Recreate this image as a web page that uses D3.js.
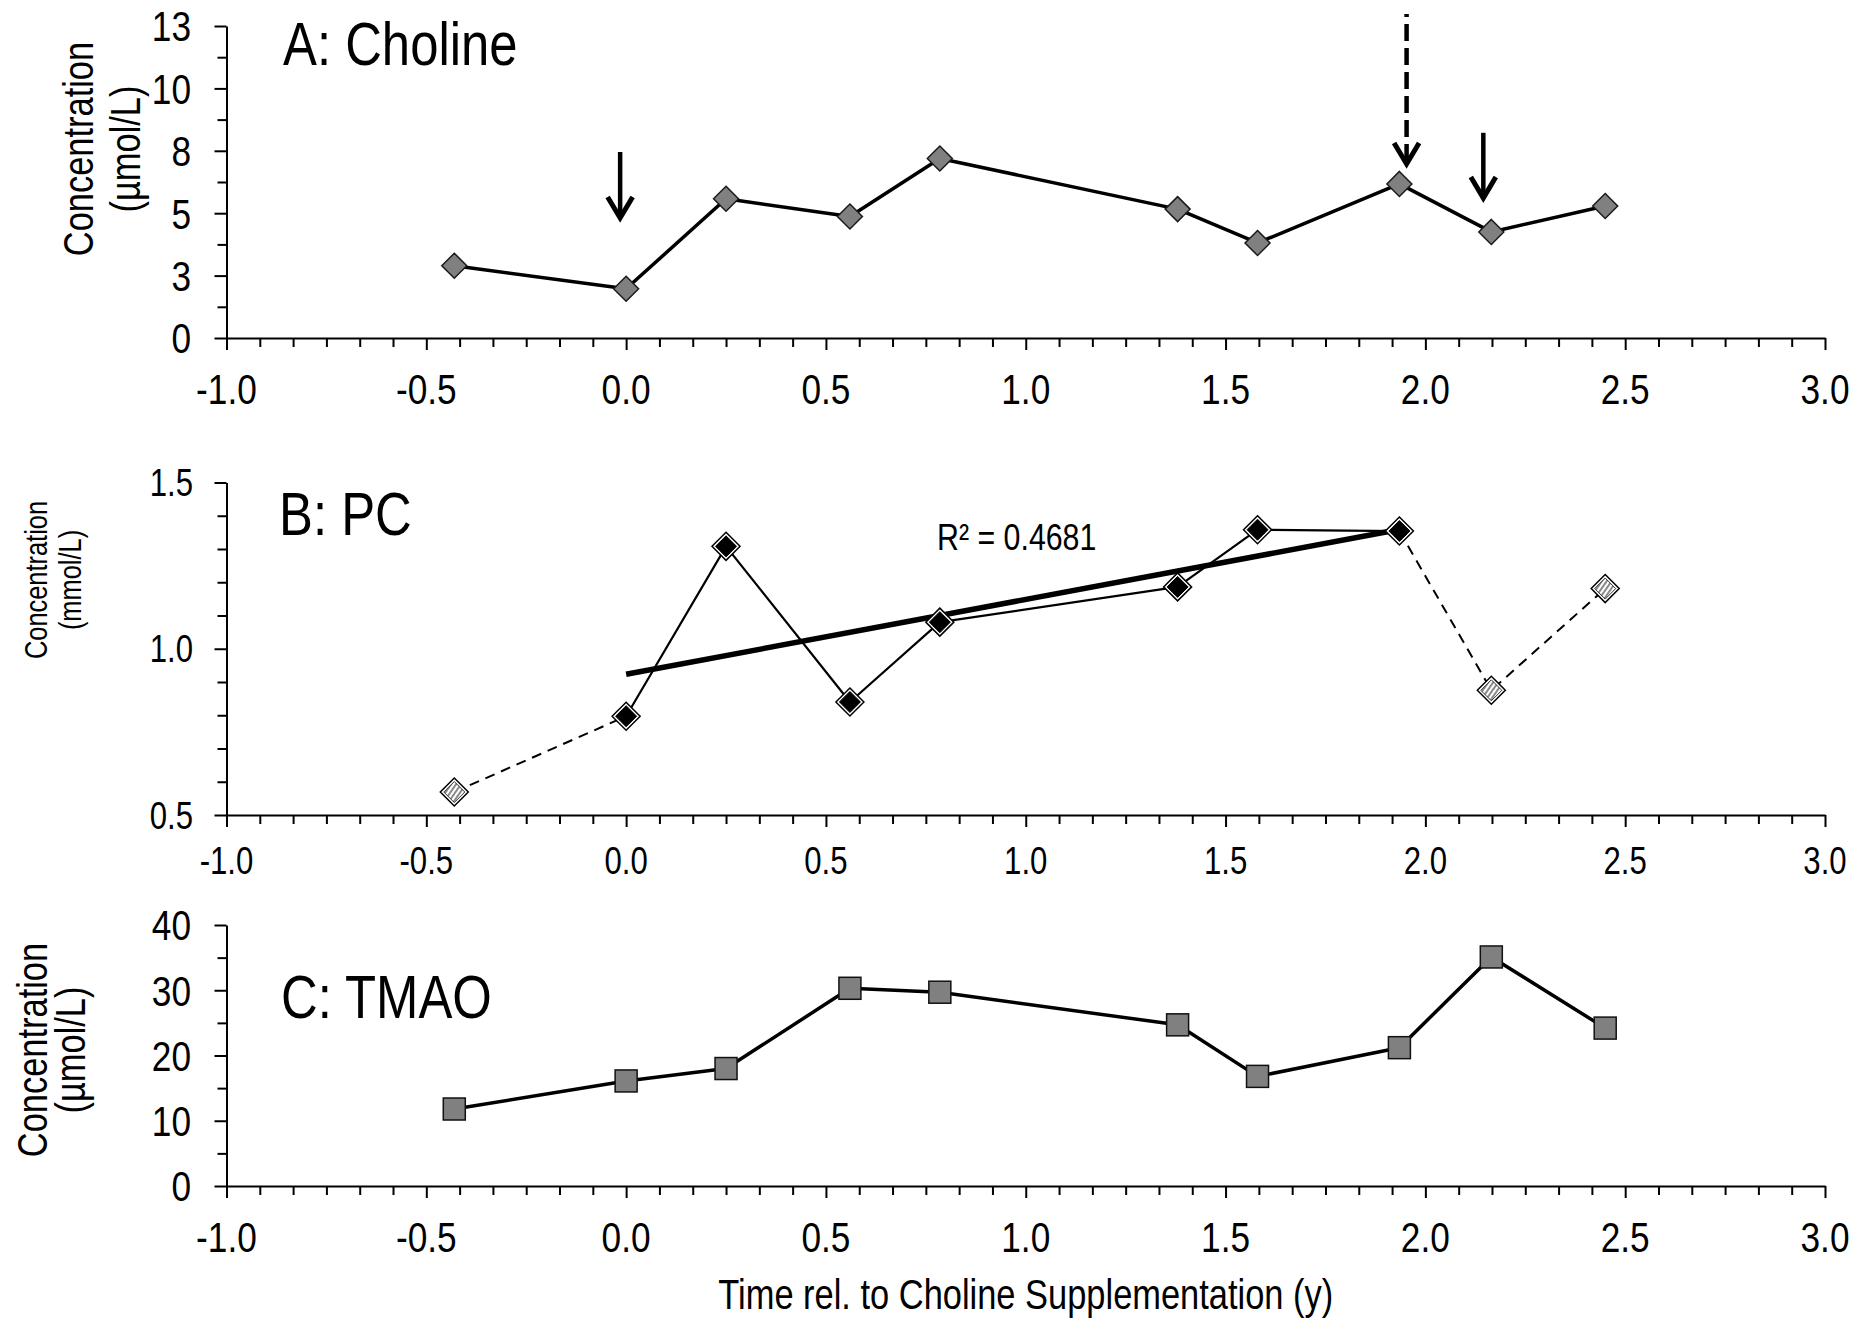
<!DOCTYPE html>
<html><head><meta charset="utf-8">
<script src="https://cdn.jsdelivr.net/npm/d3@7"></script>
<style>body{margin:0;background:#fff} svg{display:block}</style>
</head><body>
<svg id="chart" width="1855" height="1318"></svg>
<script>
// ---------- data ----------
const times = [-0.43, 0.0, 0.25, 0.56, 0.785, 1.38, 1.58, 1.935, 2.165, 2.45];
const cholineValues = [3.01, 2.05, 5.80, 5.06, 7.48, 5.37, 3.96, 6.42, 4.42, 5.50];
const pcValues = [0.569, 0.797, 1.308, 0.840, 1.080, 1.186, 1.358, 1.354, 0.875, 1.181];
const pcInTrend = [false, true, true, true, true, true, true, true, false, false];
const tmaoValues = [11.8, 16.1, 18.0, 30.3, 29.7, 24.7, 16.8, 21.2, 35.1, 24.2];

const xTickValues = [-1.0, -0.5, 0.0, 0.5, 1.0, 1.5, 2.0, 2.5, 3.0];
const xTickLabels = ["-1.0", "-0.5", "0.0", "0.5", "1.0", "1.5", "2.0", "2.5", "3.0"];
const cholineTicks = [0, 2.6, 5.2, 7.8, 10.4, 13];
const cholineTickLabels = ["0", "3", "5", "8", "10", "13"];
const pcTicks = [0.5, 1.0, 1.5];
const pcTickLabels = ["0.5", "1.0", "1.5"];
const tmaoTicks = [0, 10, 20, 30, 40];
const tmaoTickLabels = ["0", "10", "20", "30", "40"];

const arrowX = [-0.015, 1.953, 2.145];
const arrowTop = [7.75, 13.5, 8.55];
const arrowTip = [4.92, 7.17, 5.75];
const arrowDashed = [false, true, false];

const panelTitles = ["A: Choline", "B: PC", "C: TMAO"];
const yTitles = [["Concentration", "(\u00b5mol/L)"], ["Concentration", "(mmol/L)"], ["Concentration", "(\u00b5mol/L)"]];
const xTitle = "Time rel. to Choline Supplementation (y)";
const r2Label = "R\u00b2 = 0.4681";

// ---------- setup ----------
const svg = d3.select("#chart");
const FONT = "'Liberation Sans', Arial, sans-serif";
const NARROW = 0.82;
const X0 = 226.5, X1 = 1825;
const x = d3.scaleLinear().domain([-1, 3]).range([X0, X1]);

const defs = svg.append("defs");
const pat = defs.append("pattern").attr("id", "hatch").attr("patternUnits", "userSpaceOnUse")
  .attr("width", 4).attr("height", 4).attr("patternTransform", "rotate(35)");
pat.append("rect").attr("width", 4).attr("height", 4).attr("fill", "#ffffff");
pat.append("rect").attr("width", 2).attr("height", 4).attr("fill", "#8a8a8a");

function ntext(parent, tx, ty, str, size, anchor, rot) {
  const g = parent.append("g").attr("transform", `translate(${tx},${ty}) rotate(${rot || 0}) scale(${NARROW},1)`);
  return g.append("text").attr("x", 0).attr("y", 0).attr("text-anchor", anchor || "start")
    .attr("font-family", FONT).attr("font-size", size).attr("fill", "#000").text(str);
}

function drawAxes(y, yTicks, yLabels, yMinor, opts) {
  const y0 = y.range()[0];
  const g = svg.append("g");
  const xMinor = d3.range(0, 49).filter(i => i % 6 !== 0).map(i => -1 + i / 12);
  const gxm = g.append("g").attr("transform", `translate(0,${y0})`)
    .call(d3.axisBottom(x).tickValues(xMinor).tickSize(9).tickSizeOuter(0).tickFormat(""));
  gxm.select(".domain").remove();
  g.append("g").attr("transform", `translate(0,${y0})`)
    .call(d3.axisBottom(x).tickValues(xTickValues).tickSize(12).tickSizeOuter(0).tickFormat(""));
  const gym = g.append("g").attr("transform", `translate(${X0},0)`)
    .call(d3.axisLeft(y).tickValues(yMinor).tickSize(9).tickSizeOuter(0).tickFormat(""));
  gym.select(".domain").remove();
  g.append("g").attr("transform", `translate(${X0},0)`)
    .call(d3.axisLeft(y).tickValues(yTicks).tickSize(12).tickSizeOuter(0).tickFormat(""));
  g.selectAll("line").attr("stroke", "#000").attr("stroke-width", 2);
  g.selectAll(".domain").attr("stroke", "#000").attr("stroke-width", 2);
  xTickValues.forEach((v, i) => ntext(g, x(v), y0 + opts.xLabOff, xTickLabels[i], opts.tickSize, "middle"));
  yTicks.forEach((v, i) => ntext(g, opts.yLabRight, y(v) + opts.tickSize * 0.36, yLabels[i], opts.tickSize, "end"));
}

function diamond(r) { return `M0,${-r}L${r},0L0,${r}L${-r},0Z`; }

// ---------- Panel A ----------
const yA = d3.scaleLinear().domain([0, 13]).range([338, 26]);
drawAxes(yA, cholineTicks, cholineTickLabels, d3.range(1, 10, 2).map(i => i * 1.3),
  { xLabOff: 66, tickSize: 43, yLabRight: 191 });
const gA = svg.append("g");
gA.append("path").datum(times.map((t, i) => [t, cholineValues[i]]))
  .attr("d", d3.line().x(d => x(d[0])).y(d => yA(d[1])))
  .attr("fill", "none").attr("stroke", "#000").attr("stroke-width", 3.5).attr("stroke-linejoin", "round");
gA.selectAll(".mk").data(times).join("path")
  .attr("transform", (t, i) => `translate(${x(t)},${yA(cholineValues[i])})`)
  .attr("d", diamond(12.5)).attr("fill", "#808080").attr("stroke", "#1a1a1a").attr("stroke-width", 1.5);
ntext(gA, 283, 65, panelTitles[0], 62, "start");
ntext(gA, 93, 149, yTitles[0][0], 42, "middle", -90);
ntext(gA, 140, 149, yTitles[0][1], 42, "middle", -90);
arrowX.forEach((ax, i) => {
  const px = x(ax), top = yA(arrowTop[i]), tip = yA(arrowTip[i]);
  const shaft = gA.append("line").attr("x1", px).attr("x2", px).attr("y1", tip - 5).attr("y2", top)
    .attr("stroke", "#000").attr("stroke-width", 4.5);
  if (arrowDashed[i]) shaft.attr("stroke-dasharray", "17,7");
  gA.append("path").attr("d", `M${px - 12.5},${tip - 23}L${px},${tip - 2}L${px + 12.5},${tip - 23}`)
    .attr("fill", "none").attr("stroke", "#000").attr("stroke-width", 5).attr("stroke-linejoin", "miter");
});

// ---------- Panel B ----------
const yB = d3.scaleLinear().domain([0.5, 1.5]).range([815, 482.5]);
drawAxes(yB, pcTicks, pcTickLabels, [0.6, 0.7, 0.8, 0.9, 1.1, 1.2, 1.3, 1.4],
  { xLabOff: 59, tickSize: 38, yLabRight: 193 });
const gB = svg.append("g");
const pcPts = times.map((t, i) => ({ t, v: pcValues[i], inc: pcInTrend[i] }));
const inc = pcPts.filter(d => d.inc);
const lineB = d3.line().x(d => x(d.t)).y(d => yB(d.v));
gB.append("path").datum(pcPts.slice(0, 2)).attr("d", lineB).attr("fill", "none")
  .attr("stroke", "#000").attr("stroke-width", 2).attr("stroke-dasharray", "10,7");
gB.append("path").datum(pcPts.slice(7)).attr("d", lineB).attr("fill", "none")
  .attr("stroke", "#000").attr("stroke-width", 2).attr("stroke-dasharray", "10,7");
gB.append("path").datum(inc).attr("d", lineB).attr("fill", "none")
  .attr("stroke", "#000").attr("stroke-width", 2.2).attr("stroke-linejoin", "round");
const mx = d3.mean(inc, d => d.t), my = d3.mean(inc, d => d.v);
const slope = d3.sum(inc, d => (d.t - mx) * (d.v - my)) / d3.sum(inc, d => (d.t - mx) ** 2);
const icpt = my - slope * mx;
const tMin = d3.min(inc, d => d.t), tMax = d3.max(inc, d => d.t);
gB.append("line").attr("x1", x(tMin)).attr("y1", yB(icpt + slope * tMin))
  .attr("x2", x(tMax)).attr("y2", yB(icpt + slope * tMax))
  .attr("stroke", "#000").attr("stroke-width", 5.5);
const mkB = gB.selectAll(".mkb").data(pcPts).join("g")
  .attr("transform", d => `translate(${x(d.t)},${yB(d.v)})`);
mkB.append("path").attr("d", diamond(14)).attr("fill", "#fff").attr("stroke", "#000").attr("stroke-width", 1.5);
mkB.append("path").attr("d", diamond(10.5)).attr("fill", d => d.inc ? "#000" : "url(#hatch)")
  .attr("stroke", d => d.inc ? "#000" : "#333").attr("stroke-width", 1);
ntext(gB, 279, 535, panelTitles[1], 62, "start");
ntext(gB, 937, 550, r2Label, 37, "start");
ntext(gB, 47, 580, yTitles[1][0], 31, "middle", -90);
ntext(gB, 81, 580, yTitles[1][1], 31, "middle", -90);

// ---------- Panel C ----------
const yC = d3.scaleLinear().domain([0, 40]).range([1186, 925]);
drawAxes(yC, tmaoTicks, tmaoTickLabels, [5, 15, 25, 35],
  { xLabOff: 66, tickSize: 43, yLabRight: 191 });
const gC = svg.append("g");
gC.append("path").datum(times.map((t, i) => [t, tmaoValues[i]]))
  .attr("d", d3.line().x(d => x(d[0])).y(d => yC(d[1])))
  .attr("fill", "none").attr("stroke", "#000").attr("stroke-width", 3.5).attr("stroke-linejoin", "round");
gC.selectAll(".mkc").data(times).join("rect")
  .attr("x", (t) => x(t) - 11).attr("y", (t, i) => yC(tmaoValues[i]) - 11)
  .attr("width", 22).attr("height", 22)
  .attr("fill", "#808080").attr("stroke", "#111").attr("stroke-width", 1.5);
ntext(gC, 281, 1018, panelTitles[2], 62, "start");
ntext(gC, 47, 1050, yTitles[2][0], 42, "middle", -90);
ntext(gC, 85, 1050, yTitles[2][1], 42, "middle", -90);

ntext(svg, (X0 + X1) / 2, 1309, xTitle, 42, "middle");
</script>
</body></html>
